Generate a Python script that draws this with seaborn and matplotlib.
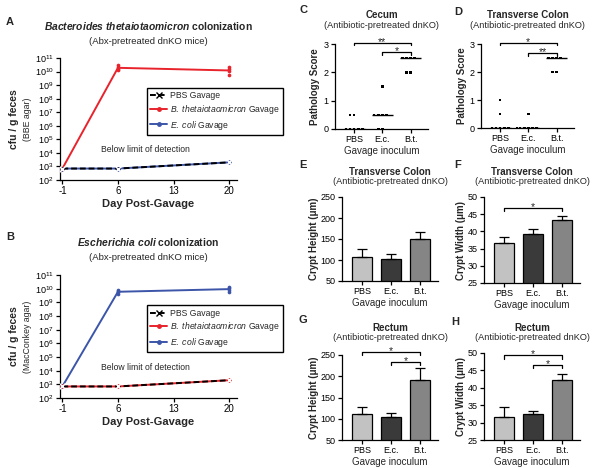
import numpy as np
import pandas as pd
import matplotlib
matplotlib.use("Agg")
import matplotlib.pyplot as plt
import seaborn as sns
from matplotlib.lines import Line2D
from matplotlib.ticker import LogLocator, NullLocator

# ---------------- data ----------------
day_ticks = [-1, 6, 13, 20]

A_day = [-1, -1, -1, -1, 6, 6, 6, 6, 20, 20, 20, 20]
A_pbs = [7e2, 7e2, 7e2, 7e2, 7e2, 7e2, 7e2, 7e2, 2e3, 2e3, 2e3, 2e3]
A_bt = [7e2, 7e2, 7e2, 7e2, 1.2e10, 1.6e10, 2.2e10, 3.0e10, 6e9, 1.1e10, 1.6e10, 2.0e10]
A_ec = [7e2, 7e2, 7e2, 7e2, 7e2, 7e2, 7e2, 7e2, 2e3, 2e3, 2e3, 2e3]

B_day = [-1, -1, -1, -1, 6, 6, 6, 6, 20, 20, 20, 20]
B_pbs = [7e2, 7e2, 7e2, 7e2, 7e2, 7e2, 7e2, 7e2, 2e3, 2e3, 2e3, 2e3]
B_bt = [7e2, 7e2, 7e2, 7e2, 7e2, 7e2, 7e2, 7e2, 2e3, 2e3, 2e3, 2e3]
B_ec = [7e2, 7e2, 7e2, 7e2, 4e9, 5.5e9, 7e9, 8e9, 6e9, 8e9, 1.1e10, 1.4e10]

groups = ["PBS", "E.c.", "B.t."]

C_group = ["PBS"] * 7 + ["E.c."] * 7 + ["B.t."] * 6
C_score = [0, 0, 0, 0, 0, 0.5, 0.5,
           0, 0, 0.5, 0.5, 0.5, 0.5, 1.5,
           2, 2, 2.5, 2.5, 2.5, 2.5]
D_group = ["PBS"] * 7 + ["E.c."] * 7 + ["B.t."] * 6
D_score = [0, 0, 0, 0, 0, 0.5, 1.0,
           0, 0, 0, 0, 0, 0, 0.5,
           2, 2, 2.5, 2.5, 2.5, 2.5]

E_mean = [107, 103, 150]
E_sem = [20, 11, 16]
F_mean = [36.7, 39.3, 43.4]
F_sem = [1.7, 1.4, 1.0]
G_mean = [112, 104, 192]
G_sem = [15, 9, 27]
H_mean = [31.7, 32.4, 42.1]
H_sem = [2.7, 0.8, 2.0]

# significance brackets: (group i, group j, height, label)
C_sig = [(0, 2, 3.05, "**"), (1, 2, 2.72, "*")]
D_sig = [(0, 2, 3.05, "*"), (1, 2, 2.68, "**")]
F_sig = [(0, 2, 46.9, "*")]
G_sig = [(0, 2, 257, "*"), (1, 2, 234, "*")]
H_sig = [(0, 2, 49.3, "*"), (1, 2, 46.6, "*")]

bar_colors = ["#c2c2c2", "#3a3a3a", "#858585"]
RED = "#e8232b"
BLUE = "#3c55a8"

# ---------------- style ----------------
sns.set_style("ticks")
plt.rcParams.update({
    "font.family": ["Liberation Sans", "DejaVu Sans"],
    "mathtext.fontset": "custom",
    "mathtext.rm": "Liberation Sans",
    "mathtext.it": "Liberation Sans:italic",
    "mathtext.bf": "Liberation Sans:italic:bold",
    "axes.unicode_minus": False,
    "axes.linewidth": 0.9,
    "xtick.major.width": 0.9,
    "ytick.major.width": 0.9,
    "xtick.major.size": 3,
    "ytick.major.size": 3,
    "xtick.major.pad": 1.5,
    "ytick.major.pad": 1.5,
    "axes.edgecolor": "black",
    "xtick.color": "black",
    "ytick.color": "black",
})

W, H = 602, 468
fig = plt.figure(figsize=(W / 100, H / 100), dpi=100)


def rect(l, t, r, b):
    return [l / W, 1 - b / H, (r - l) / W, (b - t) / H]


def ftext(x, y, s, **kw):
    kw.setdefault("ha", "center")
    kw.setdefault("va", "center")
    fig.text(x / W, 1 - y / H, s, **kw)


# ---------------- colonization panels ----------------
def colon_panel(box, day, pbs, bt, ec, under_first, title, sub, agar, ty):
    ax = fig.add_axes(rect(*box))
    ax.set_yscale("log")
    series = {"bt": (bt, RED), "ec": (ec, BLUE)}
    for key in under_first:
        vals, col = series[key]
        sns.lineplot(x=day, y=vals, estimator="mean", errorbar=None, color=col,
                     lw=1.4, ax=ax)
        sns.scatterplot(x=day, y=vals, color=col, s=7, linewidth=0, ax=ax, zorder=3)
    sns.lineplot(x=day, y=pbs, estimator="mean", errorbar=None, color="black",
                 lw=1.4, linestyle=(0, (3, 1.5)), marker="x", markersize=4,
                 markeredgewidth=1.0, ax=ax, zorder=4)
    ax.set_xlim(-1.3, 21)
    ax.set_ylim(1e2, 1e11)
    ax.yaxis.set_major_locator(LogLocator(base=10, numticks=15))
    ax.yaxis.set_minor_locator(NullLocator())
    ax.set_xticks(day_ticks)
    ax.tick_params(axis="y", labelsize=6.5)
    ax.tick_params(axis="x", labelsize=7)
    sns.despine(ax=ax)
    ax.set_xlabel("Day Post-Gavage", fontsize=8, fontweight="bold", labelpad=2)
    ax.set_ylabel("")
    handles = [
        Line2D([], [], color="black", lw=1.4, ls=(0, (3, 1.5)), marker="x", ms=4, mew=1),
        Line2D([], [], color=RED, lw=1.4, marker="o", ms=2.5),
        Line2D([], [], color=BLUE, lw=1.4, marker="o", ms=2.5),
    ]
    labels = ["PBS Gavage", r"$\mathit{B.\ thetaiotaomicron}$ Gavage",
              r"$\mathit{E.\ coli}$ Gavage"]
    leg = ax.legend(handles, labels, loc="upper left", bbox_to_anchor=(0.49, 0.755),
                    fontsize=6.2, frameon=True, fancybox=False, framealpha=1,
                    edgecolor="black", borderpad=0.4, handlelength=2.0,
                    handletextpad=0.3, labelspacing=0.3, borderaxespad=0)
    leg.get_frame().set_linewidth(1.0)
    ax.text(0.48, 0.25, "Below limit of detection", transform=ax.transAxes,
            fontsize=6.2, ha="center", va="center")
    cx = (box[0] + box[2]) / 2
    ftext(cx, ty, title, fontsize=7.4, fontweight="bold")
    ftext(cx, ty + 15, sub, fontsize=6.8)
    cy = (box[1] + box[3]) / 2
    ftext(14, cy, "cfu / g feces", fontsize=7.5, fontweight="bold", rotation=90)
    ftext(27, cy, agar, fontsize=6.3, rotation=90)
    return ax


colon_panel((60, 58, 237, 180), A_day, A_pbs, A_bt, A_ec, ["bt", "ec"],
            r"$\mathbf{Bacteroides\ thetaiotaomicron}$ colonization",
            "(Abx-pretreated dnKO mice)", "(BBE agar)", 26)
colon_panel((60, 275, 237, 398), B_day, B_pbs, B_bt, B_ec, ["ec", "bt"],
            r"$\mathbf{Escherichia\ coli}$ colonization",
            "(Abx-pretreated dnKO mice)", "(MacConkey agar)", 242)


# ---------------- helpers ----------------
def brackets(ax, sigs, tick):
    for i, j, h, lab in sigs:
        ax.plot([i, i, j, j], [h - tick, h, h, h - tick], color="black", lw=0.9,
                clip_on=False)
        ax.annotate(lab, xy=((i + j) / 2, h), xytext=(0, -1.5),
                    textcoords="offset points", ha="center", va="baseline",
                    fontsize=7.5, annotation_clip=False)


def common(ax, box, title, ylabel, ty, letter, lpos, ylx):
    ax.set_xlim(-0.68, 2.62)
    ax.tick_params(axis="both", labelsize=6.5)
    sns.despine(ax=ax)
    ax.set_xlabel("Gavage inoculum", fontsize=7, labelpad=1)
    ax.set_ylabel("")
    cx = (box[0] + box[2]) / 2
    ftext(cx, ty, title, fontsize=7, fontweight="bold")
    ftext(cx, ty + 10, "(Antibiotic-pretreated dnKO)", fontsize=6.6)
    cy = (box[1] + box[3]) / 2
    ftext(ylx, cy, ylabel, fontsize=7, fontweight="bold", rotation=90)
    ftext(lpos[0], lpos[1], letter, fontsize=8, fontweight="bold")


def score_panel(box, grp, score, sigs, title, ty, letter, lpos, ylx):
    ax = fig.add_axes(rect(*box))
    df = pd.DataFrame({"g": grp, "s": score})
    sns.boxplot(data=df, x="g", y="s", order=groups, ax=ax, showbox=False,
                showcaps=False, showfliers=False, whis=0, width=0.75,
                medianprops={"color": "black", "linewidth": 1.0},
                whiskerprops={"visible": False})
    sns.swarmplot(data=df, x="g", y="s", order=groups, ax=ax, color="black",
                  marker="s", size=1.9, linewidth=0.9, edgecolor="none")
    for c in ax.collections:
        c.set_clip_on(False)
    ax.set_ylim(0, 3)
    ax.set_yticks([0, 1, 2, 3])
    brackets(ax, sigs, 0.1)
    common(ax, box, title, "Pathology Score", ty, letter, lpos, ylx)
    return ax


def bar_panel(box, mean, sem, ylim, yt, sigs, tick, title, ylabel, ty, letter,
              lpos, ylx):
    ax = fig.add_axes(rect(*box))
    sns.barplot(x=groups, y=mean, hue=groups, palette=bar_colors, legend=False,
                edgecolor="black", linewidth=0.9, width=0.69, ax=ax)
    ax.errorbar(x=np.arange(len(mean)), y=mean, yerr=[np.zeros(len(sem)), sem],
                fmt="none", ecolor="black", elinewidth=0.9, capsize=3.5,
                capthick=0.9, zorder=1)
    ax.set_ylim(*ylim)
    ax.set_yticks(yt)
    brackets(ax, sigs, tick)
    common(ax, box, title, ylabel, ty, letter, lpos, ylx)
    return ax


score_panel((335, 44, 428, 129), C_group, C_score, C_sig, "Cecum", 15, "C",
            (303, 10), 315)
score_panel((481, 44, 574, 128), D_group, D_score, D_sig, "Transverse Colon", 15,
            "D", (458, 12), 462)
bar_panel((342, 197, 438, 281), E_mean, E_sem, (50, 250), [50, 100, 150, 200, 250],
          [], 8, "Transverse Colon", "Crypt Height (μm)", 172, "E", (303, 165), 314)
bar_panel((484, 197, 580, 283), F_mean, F_sem, (25, 50), [25, 30, 35, 40, 45, 50],
          F_sig, 0.9, "Transverse Colon", "Crypt Width (μm)", 172, "F", (458, 165), 461)
bar_panel((342, 355, 438, 440), G_mean, G_sem, (50, 250), [50, 100, 150, 200, 250],
          G_sig, 8, "Rectum", "Crypt Height (μm)", 328, "G", (303, 320), 314)
bar_panel((484, 353, 580, 440), H_mean, H_sem, (25, 50), [25, 30, 35, 40, 45, 50],
          H_sig, 0.9, "Rectum", "Crypt Width (μm)", 328, "H", (455, 322), 461)

ftext(10, 22, "A", fontsize=8, fontweight="bold")
ftext(10, 237, "B", fontsize=8, fontweight="bold")

fig.savefig("out.png", dpi=100)
